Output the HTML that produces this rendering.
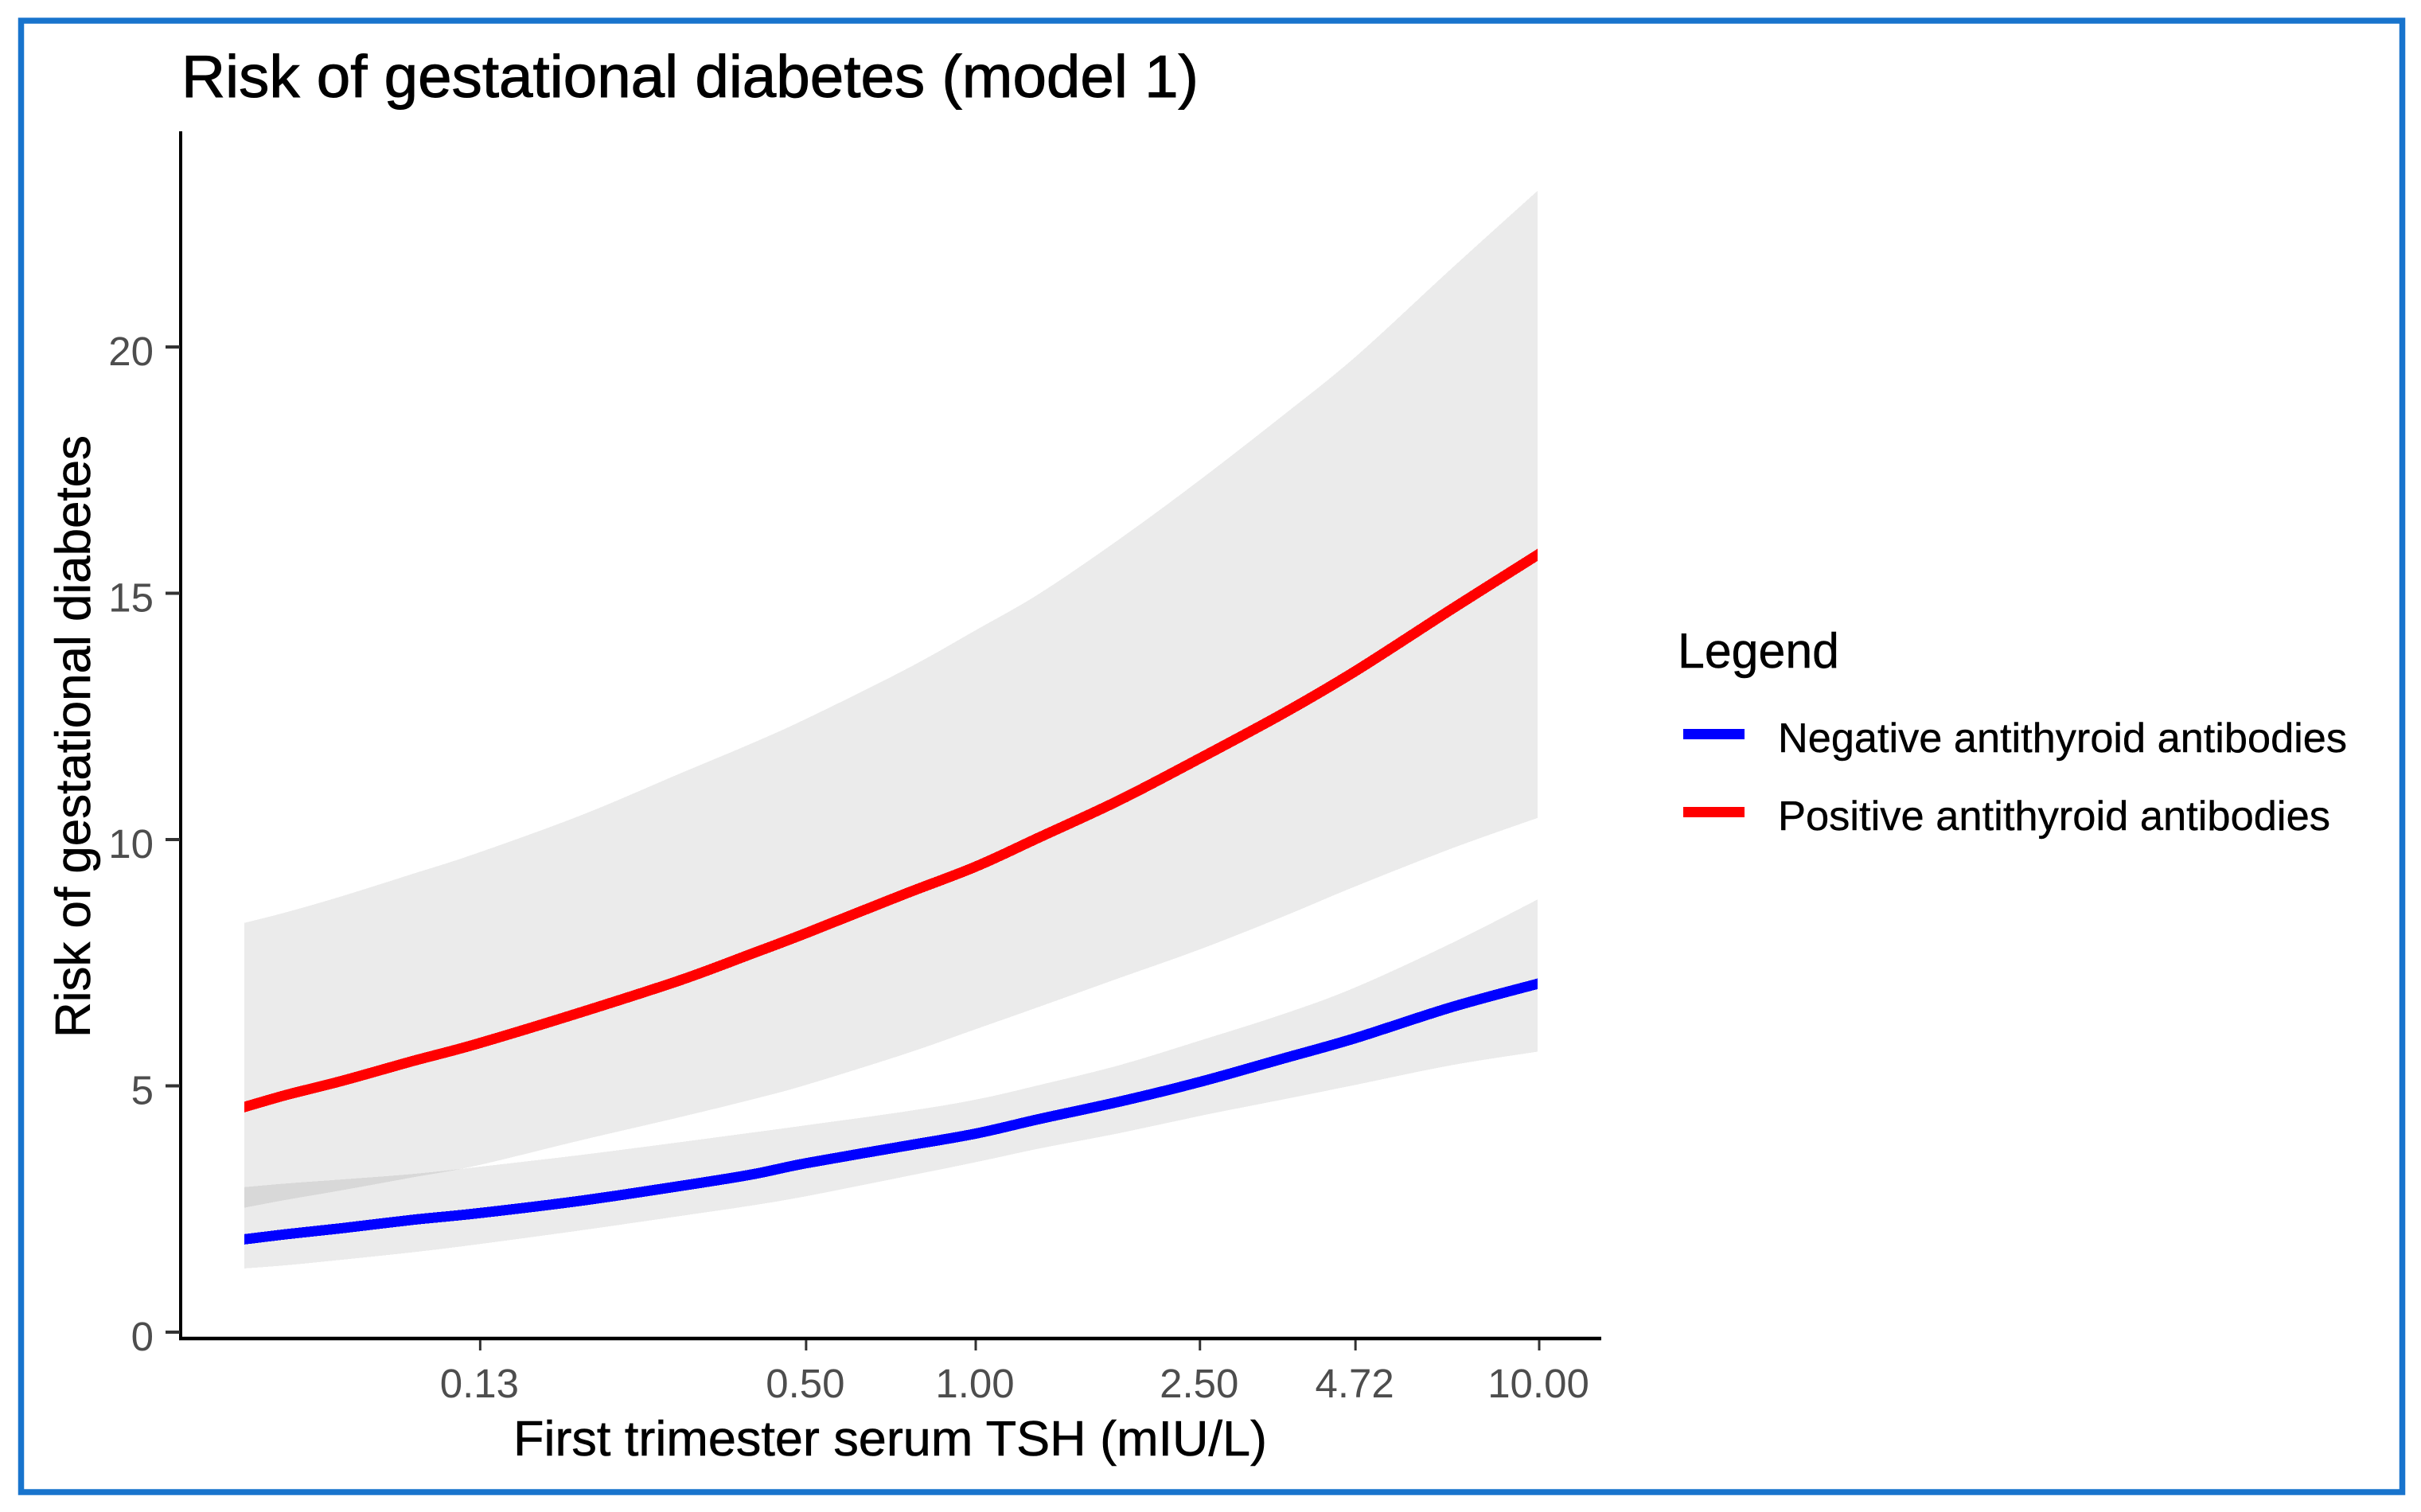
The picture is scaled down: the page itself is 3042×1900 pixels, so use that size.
<!DOCTYPE html>
<html lang="en">
<head>
<meta charset="utf-8">
<title>Risk of gestational diabetes (model 1)</title>
<style>
html,body{margin:0;padding:0;background:#fff;width:3042px;height:1900px;overflow:hidden}
svg{display:block;font-family:"Liberation Sans",Arial,sans-serif}
</style>
</head>
<body>
<svg id="chart" xmlns="http://www.w3.org/2000/svg" width="3042" height="1900" viewBox="0 0 3042 1900">
  <rect x="0" y="0" width="3042" height="1900" fill="#fff"/>
  <rect x="26.5" y="26" width="2992" height="1849" fill="none" stroke="#1874cd" stroke-width="7.5"/>
  <text x="228" y="122" font-size="75" fill="#000" stroke="#000" stroke-width="1" textLength="1278" lengthAdjust="spacingAndGlyphs">Risk of gestational diabetes (model 1)</text>
  <defs><clipPath id="plot-clip"><rect x="307" y="100" width="1625" height="1570"/></clipPath></defs>
  <g id="bands" clip-path="url(#plot-clip)"></g>
  <g id="lines" clip-path="url(#plot-clip)"></g>
  <g id="axes"></g>
  <text transform="translate(113,1304) rotate(-90)" font-size="62" fill="#000" stroke="#000" stroke-width="0.6" textLength="757" lengthAdjust="spacingAndGlyphs">Risk of gestational diabetes</text>
  <text x="645" y="1829" font-size="62" fill="#000" stroke="#000" stroke-width="0.6" textLength="947" lengthAdjust="spacingAndGlyphs">First trimester serum TSH (mIU/L)</text>
  <g>
    <text x="2108" y="839" font-size="62" fill="#000" stroke="#000" stroke-width="0.5" textLength="203" lengthAdjust="spacingAndGlyphs">Legend</text>
    <rect x="2115" y="916" width="77" height="13" fill="#0000ff"/>
    <text x="2234" y="945" font-size="52" fill="#000" stroke="#000" stroke-width="0.4" textLength="715" lengthAdjust="spacingAndGlyphs">Negative antithyroid antibodies</text>
    <rect x="2115" y="1014" width="77" height="13" fill="#ff0000"/>
    <text x="2234" y="1043" font-size="52" fill="#000" stroke="#000" stroke-width="0.4" textLength="694" lengthAdjust="spacingAndGlyphs">Positive antithyroid antibodies</text>
  </g>
</svg>
<script>
const tshValues = [0.05,0.06,0.075,0.1,0.13,0.2,0.3,0.4,0.5,0.75,1,1.3,1.8,2.5,3.5,4.72,7,10];
const positiveRisk = [4.56,4.82,5.1,5.5,5.85,6.5,7.15,7.68,8.1,8.9,9.45,10.05,10.8,11.65,12.55,13.42,14.68,15.8];
const positiveUpper = [8.3,8.53,8.85,9.3,9.72,10.5,11.35,11.95,12.45,13.45,14.25,15.0,16.1,17.3,18.6,19.8,21.6,23.2];
const positiveLower = [2.52,2.69,2.88,3.14,3.38,3.9,4.37,4.72,5.02,5.65,6.15,6.61,7.19,7.77,8.43,9.05,9.82,10.45];
const negativeRisk = [1.88,1.99,2.11,2.28,2.41,2.67,2.97,3.2,3.43,3.78,4.03,4.33,4.68,5.08,5.55,5.97,6.6,7.08];
const negativeUpper = [2.94,3.02,3.1,3.21,3.35,3.6,3.86,4.05,4.2,4.48,4.72,5.02,5.42,5.92,6.45,7.0,7.9,8.8];
const negativeLower = [1.29,1.36,1.47,1.62,1.78,2.07,2.36,2.57,2.76,3.16,3.45,3.73,4.04,4.39,4.72,5.02,5.42,5.7];
const xTickValues = [0.132,0.5,1,2.5,4.72,10];
const xTickLabels = ["0.13","0.50","1.00","2.50","4.72","10.00"];
const yTickValues = [0,5,10,15,20];
const yTickLabels = ["0","5","10","15","20"];

const NS = "http://www.w3.org/2000/svg";
function xScale(v){ return 1226 + 708 * Math.log10(v); }
function yScale(v){ return 1674 - 61.9 * v; }
function make(tag, parent){
  const el = document.createElementNS(NS, tag);
  parent.appendChild(el);
  return el;
}
function seriesPoints(values){
  return tshValues.map((x,i)=>[xScale(x), yScale(values[i])]);
}
function smoothSegments(p){
  let d = "";
  for(let i=0;i<p.length-1;i++){
    const p0 = p[Math.max(i-1,0)], p1 = p[i], p2 = p[i+1], p3 = p[Math.min(i+2,p.length-1)];
    const c1x = p1[0]+(p2[0]-p0[0])/6, c1y = p1[1]+(p2[1]-p0[1])/6;
    const c2x = p2[0]-(p3[0]-p1[0])/6, c2y = p2[1]-(p3[1]-p1[1])/6;
    d += "C"+c1x.toFixed(1)+" "+c1y.toFixed(1)+" "+c2x.toFixed(1)+" "+c2y.toFixed(1)+" "+p2[0].toFixed(1)+" "+p2[1].toFixed(1);
  }
  return d;
}
function linePath(values){
  const p = seriesPoints(values);
  return "M"+p[0][0].toFixed(1)+" "+p[0][1].toFixed(1)+smoothSegments(p);
}
function bandPath(upper, lower){
  const top = seriesPoints(upper);
  const bottom = seriesPoints(lower).reverse();
  return "M"+top[0][0].toFixed(1)+" "+top[0][1].toFixed(1)+smoothSegments(top)+
    "L"+bottom[0][0].toFixed(1)+" "+bottom[0][1].toFixed(1)+smoothSegments(bottom)+"Z";
}

const bands = document.getElementById("bands");
const negBand = make("path", bands);


negBand.setAttribute("d", bandPath(negativeUpper, negativeLower));
negBand.setAttribute("fill", "#000");
negBand.setAttribute("fill-opacity", "0.08");
negBand.setAttribute("shape-rendering", "crispEdges");

const posBand = make("path", bands);


posBand.setAttribute("d", bandPath(positiveUpper, positiveLower));
posBand.setAttribute("fill", "#000");
posBand.setAttribute("fill-opacity", "0.08");
posBand.setAttribute("shape-rendering", "crispEdges");

const lines = document.getElementById("lines");
const negLine = make("path", lines);


negLine.setAttribute("d", linePath(negativeRisk));
negLine.setAttribute("fill", "none");
negLine.setAttribute("stroke", "#0000ff");
negLine.setAttribute("stroke-width", "13");
negLine.setAttribute("stroke-linecap", "square");
negLine.setAttribute("stroke-linejoin", "round");
negLine.setAttribute("shape-rendering", "crispEdges");

const posLine = make("path", lines);


posLine.setAttribute("d", linePath(positiveRisk));
posLine.setAttribute("fill", "none");
posLine.setAttribute("stroke", "#ff0000");
posLine.setAttribute("stroke-width", "13");
posLine.setAttribute("stroke-linecap", "square");
posLine.setAttribute("stroke-linejoin", "round");
posLine.setAttribute("shape-rendering", "crispEdges");

const axes = document.getElementById("axes");
const yAxisLine = make("line", axes);


yAxisLine.setAttribute("x1", 227); yAxisLine.setAttribute("x2", 227);
yAxisLine.setAttribute("y1", 165); yAxisLine.setAttribute("y2", 1684);
yAxisLine.setAttribute("stroke", "#000"); yAxisLine.setAttribute("stroke-width", 4);

const xAxisLine = make("line", axes);


xAxisLine.setAttribute("x1", 225); xAxisLine.setAttribute("x2", 2012);
xAxisLine.setAttribute("y1", 1682); xAxisLine.setAttribute("y2", 1682);
xAxisLine.setAttribute("stroke", "#000"); xAxisLine.setAttribute("stroke-width", 4.5);

xTickValues.forEach((v,i)=>{
  const t = make("line", axes);
  
  
  t.setAttribute("x1", xScale(v)); t.setAttribute("x2", xScale(v));
  t.setAttribute("y1", 1684); t.setAttribute("y2", 1697);
  t.setAttribute("stroke", "#333"); t.setAttribute("stroke-width", 3);
  const l = make("text", axes);
  
  
  l.setAttribute("x", xScale(v)-1); l.setAttribute("y", 1756);
  l.setAttribute("text-anchor", "middle");
  l.setAttribute("font-size", 51); l.setAttribute("fill", "#4d4d4d");
  l.textContent = xTickLabels[i];
});
yTickValues.forEach((v,i)=>{
  const t = make("line", axes);
  
  
  t.setAttribute("x1", 208); t.setAttribute("x2", 226);
  t.setAttribute("y1", yScale(v)); t.setAttribute("y2", yScale(v));
  t.setAttribute("stroke", "#333"); t.setAttribute("stroke-width", 4);
  const l = make("text", axes);
  
  
  l.setAttribute("x", 193); l.setAttribute("y", yScale(v)+23);
  l.setAttribute("text-anchor", "end");
  l.setAttribute("font-size", 51); l.setAttribute("fill", "#4d4d4d");
  l.textContent = yTickLabels[i];
});
</script>
</body>
</html>
